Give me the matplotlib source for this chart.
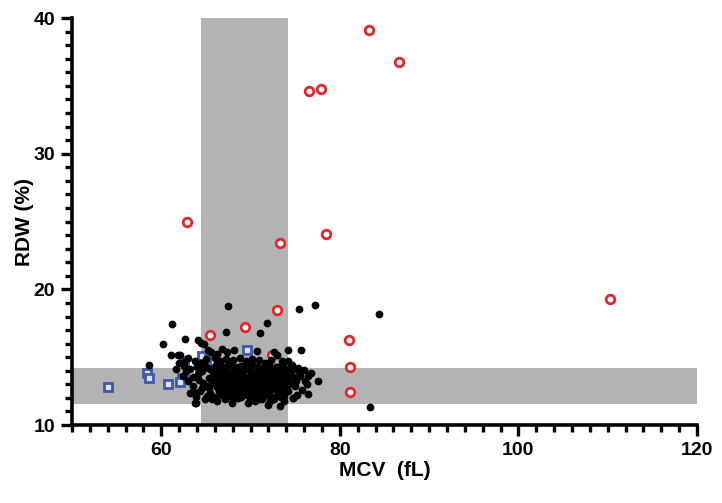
import matplotlib
matplotlib.use('Agg')
import matplotlib.pyplot as plt
from matplotlib.ticker import MultipleLocator, FixedLocator

plt.rcParams['font.family'] = ['Liberation Sans', 'DejaVu Sans']
plt.rcParams['font.weight'] = 'bold'

# reference ranges (grey bands)
mcv_band = (64.5, 74.2)
rdw_band = (11.55, 14.2)

# red open circles
mcv_red = [83.3, 86.6, 76.6, 77.9, 62.9, 78.4, 73.3, 73.0, 110.2, 81.0, 81.1, 81.1,
           65.45, 69.4, 72.4, 67.1]
rdw_red = [39.1, 36.8, 34.6, 34.8, 25.0, 24.1, 23.4, 18.45, 19.3, 16.3, 14.25, 12.45,
           16.65, 17.2, 15.2, 14.1]

# blue open squares
mcv_blue = [69.56, 64.6, 62.6, 65.3, 65.9, 63.4, 58.4, 58.65, 62.3, 62.1, 60.7, 69.8, 54.0]
rdw_blue = [15.55, 15.1, 14.75, 14.85, 14.75, 13.9, 13.85, 13.5, 13.45, 13.15, 13.05, 13.1, 12.8]

# black dots
black_pts = [
    # scattered high values
    (67.47, 18.75), (75.4, 18.55), (77.2, 18.85), (84.4, 18.15), (61.2, 17.45),
    (71.8, 17.55), (67.2, 16.85), (71.1, 16.75), (60.2, 15.95), (62.7, 16.35),
    (64.1, 16.25), (64.5, 16.05), (64.8, 15.95), (83.4, 11.3), (58.6, 14.4),
    (61.7, 14.15), (63.9, 11.6), (77.5, 13.25), (76.3, 13.0),
    # y ~15.1-15.6
    (61.1, 15.15), (61.9, 15.15), (62.1, 15.15), (65.6, 15.4), (66.8, 15.6),
    (68.2, 15.55), (70.7, 15.45), (72.6, 15.35), (73.0, 15.15), (74.2, 15.55),
    (75.6, 15.55), (65.2, 15.55), (66.2, 15.25), (67.4, 15.35),
    # y ~14.6-15.0
    (63.0, 14.95), (63.8, 14.75), (65.0, 14.85), (66.0, 14.95), (66.6, 14.7),
    (67.3, 14.9), (68.0, 14.8), (68.8, 14.95), (69.5, 14.7), (70.2, 14.9),
    (71.0, 14.8), (71.6, 14.6), (72.3, 14.8), (73.5, 14.7), (74.2, 14.7),
    (64.4, 14.6), (62.0, 14.55),
    # y ~14.0-14.5
    (62.5, 14.35), (63.2, 14.15), (64.1, 14.25), (64.8, 14.45), (65.5, 14.15),
    (66.1, 14.45), (66.8, 14.2), (67.5, 14.45), (68.2, 14.15), (68.9, 14.35),
    (69.6, 14.2), (70.3, 14.45), (71.0, 14.15), (71.7, 14.35), (72.4, 14.05),
    (73.1, 14.3), (73.8, 14.1), (74.6, 14.4), (75.3, 14.2), (76.0, 14.05),
    # core
    (66.3, 14.35), (67.0, 14.25), (67.8, 14.4), (68.5, 14.3), (69.3, 14.2),
    (70.0, 14.35), (70.8, 14.3), (71.4, 14.2), (72.1, 14.4), (72.9, 14.25), (73.6, 14.35),
    (66.0, 13.95), (66.7, 14.05), (67.4, 13.9), (68.1, 14.0), (68.8, 13.95),
    (69.5, 14.1), (70.2, 13.9), (70.9, 14.05), (71.6, 13.95), (72.3, 14.1),
    (73.0, 13.9), (73.7, 14.0), (74.5, 13.95),
    (65.8, 13.7), (66.5, 13.65), (67.2, 13.75), (67.9, 13.6), (68.6, 13.7),
    (69.3, 13.65), (70.0, 13.8), (70.7, 13.6), (71.4, 13.7), (72.1, 13.65),
    (72.8, 13.75), (73.5, 13.6), (74.2, 13.7), (74.9, 13.55),
    (65.6, 13.4), (66.3, 13.35), (67.0, 13.45), (67.7, 13.3), (68.4, 13.4),
    (69.1, 13.5), (69.8, 13.35), (70.5, 13.4), (71.2, 13.3), (71.9, 13.45),
    (72.6, 13.35), (73.3, 13.4), (74.0, 13.3), (74.7, 13.45),
    (65.9, 13.1), (66.6, 13.05), (67.3, 13.15), (68.0, 13.0), (68.7, 13.1),
    (69.4, 13.2), (70.1, 13.05), (70.8, 13.1), (71.5, 13.0), (72.2, 13.15),
    (72.9, 13.05), (73.6, 13.1), (74.3, 13.0),
    (66.2, 12.8), (66.9, 12.75), (67.6, 12.85), (68.3, 12.7), (69.0, 12.8),
    (69.7, 12.9), (70.4, 12.75), (71.1, 12.8), (71.8, 12.7), (72.5, 12.85),
    (73.2, 12.75), (73.9, 12.8),
    (66.5, 12.5), (67.2, 12.45), (67.9, 12.55), (68.6, 12.4), (69.3, 12.5),
    (70.0, 12.6), (70.7, 12.45), (71.4, 12.5), (72.1, 12.4), (72.8, 12.55),
    (73.5, 12.45), (74.2, 12.5),
    (66.8, 12.2), (67.5, 12.15), (68.2, 12.25), (68.9, 12.1), (69.6, 12.2),
    (70.3, 12.3), (71.0, 12.15), (71.7, 12.2), (72.4, 12.1), (73.1, 12.25), (73.8, 12.15),
    (67.1, 11.9), (68.6, 12.0), (69.9, 11.85), (71.3, 11.9), (72.6, 11.95), (74.8, 12.0),
    (69.7, 11.65), (70.5, 11.75), (71.98, 11.5), (73.3, 11.4), (73.8, 11.75),
    (67.9, 11.65), (66.2, 11.75), (63.8, 11.65),
    # extra core fill
    (66.9, 13.55), (68.3, 13.85), (69.9, 13.55), (71.1, 13.85), (72.5, 13.55),
    (73.9, 13.85), (67.3, 12.95), (68.8, 13.3), (70.3, 12.95), (71.7, 13.25),
    (73.0, 12.6), (67.7, 12.3), (69.1, 12.65), (70.6, 12.1), (72.0, 12.95),
    (73.4, 12.05), (68.0, 11.95), (70.9, 11.95), (72.2, 11.75), (65.2, 12.9),
    (64.2, 13.35), (63.8, 12.35), (64.6, 12.7), (65.5, 12.35), (66.0, 12.1),
    # left part
    (62.8, 13.95), (63.0, 13.25), (63.2, 12.35), (63.6, 12.85), (64.1, 13.75),
    (64.3, 12.5), (64.7, 13.1), (65.1, 12.15), (65.3, 13.45), (64.0, 14.35),
    (64.6, 13.95), (65.0, 14.25), (65.4, 12.75), (63.5, 13.55), (62.6, 14.65),
    (63.9, 12.05), (65.7, 11.95), (64.9, 11.9), (62.4, 13.65),
    # right part
    (74.0, 13.95), (74.4, 14.2), (75.1, 13.25), (75.5, 13.6), (76.1, 13.25),
    (76.4, 13.6), (76.4, 12.3), (75.0, 12.85), (74.8, 12.0), (75.3, 14.05),
    (75.8, 12.55), (75.2, 12.25), (76.8, 13.85),
]
mcv_black = [p[0] for p in black_pts]
rdw_black = [p[1] for p in black_pts]

fig = plt.figure(figsize=(7.22, 5.03), dpi=100)
ax = fig.add_axes([0.0997, 0.155, 0.8657, 0.809])

grey = '#b3b3b3'
ax.axvspan(mcv_band[0], mcv_band[1], color=grey, lw=0, zorder=0)
ax.axhspan(rdw_band[0], rdw_band[1], color=grey, lw=0, zorder=0)

ax.plot(mcv_red, rdw_red, 'o', ms=6.2, mfc='white', mec='#e3262b', mew=2.0, zorder=2,
        clip_on=False)
ax.plot(mcv_blue, rdw_blue, 's', ms=6.2, mfc='#dfe4f2', mec='#3d5ba9', mew=2.0, zorder=2)
ax.plot(mcv_black, rdw_black, 'o', ms=5.6, color='black', mew=0, zorder=3)

ax.set_xlim(50, 120)
ax.set_ylim(10, 40)

ax.xaxis.set_major_locator(FixedLocator([60, 80, 100, 120]))
ax.xaxis.set_minor_locator(MultipleLocator(2))
ax.yaxis.set_major_locator(MultipleLocator(10))
ax.yaxis.set_minor_locator(MultipleLocator(1))

for s in ['top', 'right']:
    ax.spines[s].set_visible(False)
for s in ['left', 'bottom']:
    ax.spines[s].set_linewidth(2.6)

ax.tick_params(which='major', direction='out', length=8, width=2.4, labelsize=14, pad=4)
ax.tick_params(which='minor', direction='out', length=5, width=2.4)
for lab in ax.get_xticklabels() + ax.get_yticklabels():
    lab.set_fontweight('bold')

ax.set_xlabel('MCV  (fL)', fontsize=15, fontweight='bold', labelpad=2)
ax.set_ylabel('RDW (%)', fontsize=15, fontweight='bold', labelpad=0)

fig.savefig('out.png', dpi=100)
